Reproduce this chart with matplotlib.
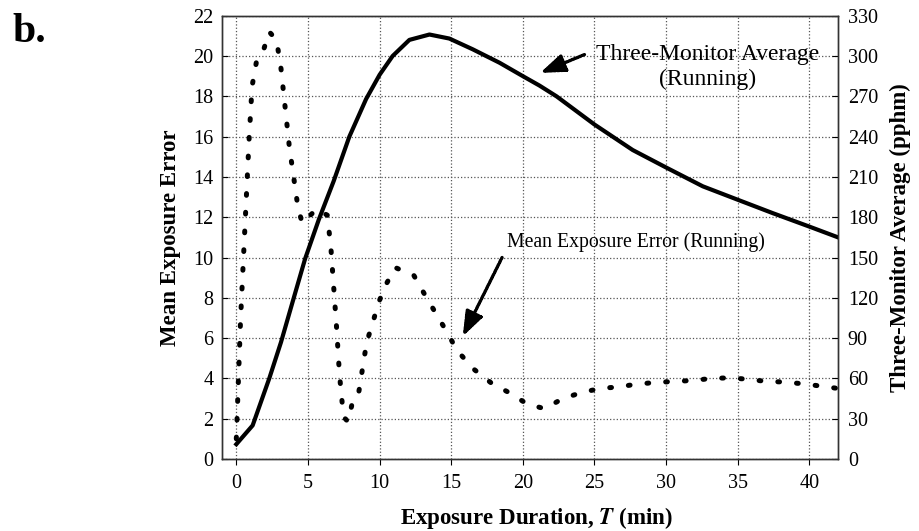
import numpy as np
import matplotlib
matplotlib.use('Agg')
import matplotlib.pyplot as plt
import matplotlib as mpl

mpl.rc('font', family=['Liberation Serif', 'DejaVu Serif'], size=14.5)
mpl.rc('mathtext', fontset='stix')

# running mean exposure error (left axis)
err_t = [0, 0.1, 0.3, 0.5, 0.7, 0.9, 1.1, 1.4, 1.9, 2.3, 2.8, 3.1, 3.4, 3.7, 4.0,
         4.3, 4.6, 5.6, 6.35, 6.6, 6.8, 7.0, 7.2, 7.4, 7.6, 7.8, 8.1, 8.5, 8.7,
         9.1, 9.5, 9.9, 10.4, 11.1, 12.4, 13.2, 14.7, 15.4, 16.5, 17.8, 19.1,
         20.3, 21.5, 22.8, 24.1, 25.4, 26.7, 28.0, 29.3, 30.6, 31.9, 33.2, 34.5,
         35.8, 37.0, 38.3, 39.7, 41.0, 42.0]
err_v = [1.0, 3.0, 7.0, 10.0, 13.0, 16.0, 18.5, 19.7, 20.3, 21.2, 20.8, 19.5,
         17.5, 15.5, 14.0, 12.5, 11.7, 12.4, 12.1, 10.5, 8.5, 6.5, 4.2, 2.7, 2.0,
         1.85, 2.8, 3.1, 4.0, 5.8, 6.7, 7.7, 8.6, 9.5, 9.1, 8.1, 6.3, 5.4, 4.5,
         3.77, 3.27, 2.73, 2.5, 3.0, 3.3, 3.5, 3.58, 3.72, 3.8, 3.85, 3.9, 4.0,
         4.03, 3.95, 3.85, 3.82, 3.72, 3.6, 3.5]

# running three-monitor average, pphm (right axis)
avg_t = [0, 1.14, 2.3, 3.12, 3.93, 4.8, 5.75, 6.8, 7.89, 9.06, 10.0, 10.91,
         12.08, 13.48, 14.87, 16.5, 18.37, 20.0, 21.16, 22.35, 25.0, 27.67, 30.0,
         32.56, 35.0, 37.45, 40.0, 42.0]
avg_v = [11, 25, 60, 87, 117, 149, 178, 207, 240, 268, 286, 300, 312, 316, 313,
         305, 295, 285, 278, 270, 249, 230, 217, 203, 193, 183, 173, 165]

xticks = np.arange(0, 41, 5)
lticks = np.arange(0, 23, 2)
rticks = np.arange(0, 331, 30)

fig = plt.figure(figsize=(9.2, 5.31), dpi=100)
ax = fig.add_axes([0.2413, 0.1356, 0.6696, 0.8348])
ax2 = ax.twinx()

ax.plot(err_t, err_v, color='black', lw=3.6, linestyle=(0, (0.35, 3.4)),
        dash_capstyle='round')
ax2.plot(avg_t, avg_v, color='black', lw=3.0, solid_joinstyle='round')

ax.set_xlim(-1, 42)
ax.set_ylim(0, 22)
ax2.set_ylim(0, 330)
ax.set_xticks(xticks)
ax.set_yticks(lticks)
ax2.set_yticks(rticks)

ax.grid(True, color='#555555', linestyle=':', lw=0.9)
ax.tick_params(axis='x', direction='out', length=4, pad=7)
ax.tick_params(axis='y', direction='in', length=4, pad=6)
ax2.tick_params(axis='y', direction='in', length=4, pad=7)
for a in (ax, ax2):
    for s in a.spines.values():
        s.set_color('#333333')
        s.set_linewidth(1.0)

lab = dict(fontsize=16.5, fontweight='bold', va='center')
ax.set_xlabel('Exposure Duration, $\\mathbfit{T}$ (min)', **lab)
ax.xaxis.set_label_coords(0.51, -0.133)
ax.set_ylabel('Mean Exposure Error', **lab)
ax.yaxis.set_label_coords(-0.084, 0.5)
ax2.set_ylabel('Three-Monitor Average (pphm)', **lab)
ax2.yaxis.set_label_coords(1.101, 0.5)

arrow = dict(arrowstyle='-|>,head_length=0.6,head_width=0.22', color='black',
             lw=2.4, linestyle=(0, (0.6, 0.5)), mutation_scale=25,
             shrinkA=0, shrinkB=0)
ax.annotate('', xy=(21.2, 19.16), xytext=(24.3, 20.07), arrowprops=arrow)
ax.text(32.9, 19.45, 'Three-Monitor Average\n(Running)', ha='center', va='center',
        fontsize=17, linespacing=1.2)
ax.annotate('', xy=(15.8, 6.08), xytext=(18.55, 10.0), arrowprops=arrow)
ax.text(27.9, 10.75, 'Mean Exposure Error (Running)', ha='center', va='center',
        fontsize=14.2)

fig.text(0.013, 0.975, 'b.', fontsize=30, fontweight='bold', va='top', ha='left')

fig.savefig('out.png', dpi=100)
